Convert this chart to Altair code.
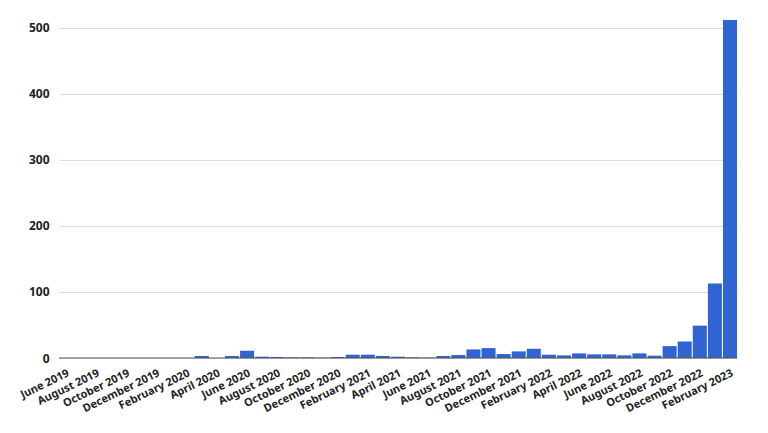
import altair as alt
import pandas as pd

months = [
    "June 2019", "July 2019", "August 2019", "September 2019", "October 2019",
    "November 2019", "December 2019", "January 2020", "February 2020", "March 2020",
    "April 2020", "May 2020", "June 2020", "July 2020", "August 2020",
    "September 2020", "October 2020", "November 2020", "December 2020", "January 2021",
    "February 2021", "March 2021", "April 2021", "May 2021", "June 2021",
    "July 2021", "August 2021", "September 2021", "October 2021", "November 2021",
    "December 2021", "January 2022", "February 2022", "March 2022", "April 2022",
    "May 2022", "June 2022", "July 2022", "August 2022", "September 2022",
    "October 2022", "November 2022", "December 2022", "January 2023", "February 2023",
]
counts = [
    0, 0, 0, 0, 0, 0, 0, 0, 0, 3,
    0, 3, 11, 2, 1.5, 1, 1, 0.5, 1.5, 5,
    5, 3, 2, 1, 0.5, 3, 4.5, 13, 15, 6,
    10, 14, 5, 4, 7, 5.5, 5.5, 4, 7, 3.5,
    18, 25, 49, 113, 512,
]
x_labels = months[::2]
y_grid = [0, 50, 100, 150, 200, 250, 300, 350, 400, 450, 500]
baseline = [0]

df = pd.DataFrame({"month": months, "count": counts})

FONT = "Noto Sans"

bars = alt.Chart(df).mark_bar(color="#3064D2").encode(
    x=alt.X(
        "month:N",
        sort=months,
        scale=alt.Scale(paddingInner=0.07, paddingOuter=0),
        axis=alt.Axis(
            values=x_labels, title=None, labelAngle=334, labelAlign="right",
            labelBaseline="top", labelPadding=9, ticks=False, domain=False,
            labelFontSize=11, labelFont=FONT, labelFontWeight="bold",
            labelColor="#222222", labelOverlap=False,
        ),
    ),
    y=alt.Y(
        "count:Q",
        scale=alt.Scale(domain=[0, 512], nice=False),
        axis=alt.Axis(
            values=y_grid, labelExpr="datum.value % 100 == 0 ? datum.label : ''",
            title=None, ticks=False, domain=False, gridColor="#dddddd",
            labelPadding=10, labelFontSize=12, labelFont=FONT,
            labelFontWeight="bold", labelColor="#222222",
        ),
    ),
)

rule = alt.Chart(pd.DataFrame({"count": baseline})).mark_rule(
    color="#555555", strokeWidth=1.2
).encode(y="count:Q")

chart = alt.layer(bars, rule).properties(
    width=678,
    height=338,
    autosize=alt.AutoSizeParams(type="none"),
    padding={"left": 51, "top": 12, "right": 23, "bottom": 67},
).configure_view(stroke=None)

chart.save("out.html", embed_options={"renderer": "svg", "actions": False})
